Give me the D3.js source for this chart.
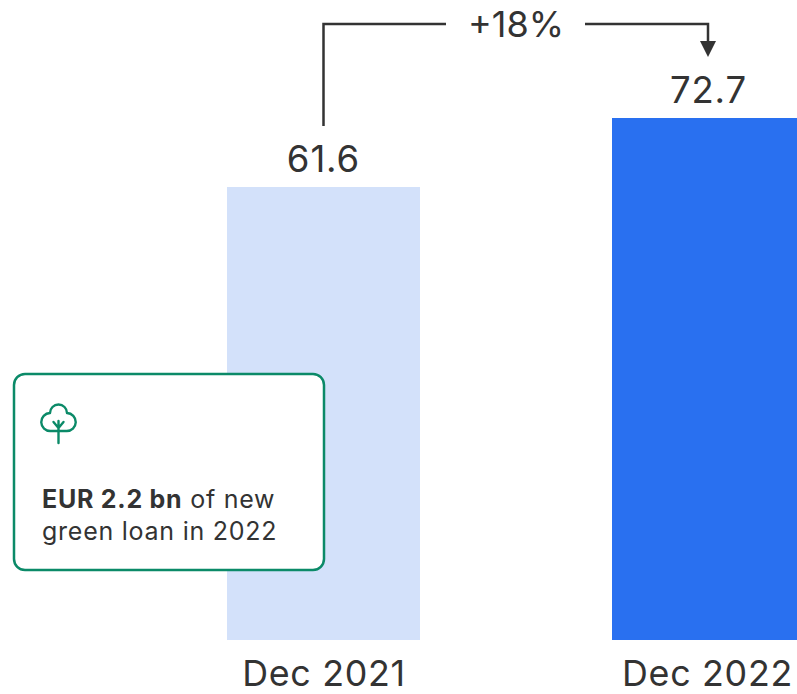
<!DOCTYPE html>
<html>
<head>
<meta charset="utf-8">
<script src="https://cdn.jsdelivr.net/npm/d3@7"></script>
<style>
  html, body { margin: 0; padding: 0; background: #fff; overflow: hidden; }
  svg { display: block; }
  text { font-family: Inter, "Noto Sans", sans-serif; fill: #333; }
</style>
</head>
<body>
<svg id="chart" width="797" height="694"></svg>
<script>
// Loan book at year end, EUR bn
const periods = ["Dec 2021", "Dec 2022"];
const loanValues = [61.6, 72.7];
const barColors = ["#d3e1fa", "#2970f0"];
const growthLabel = "+18%";
const noteBold = "EUR 2.2 bn";
const noteRest = " of new";
const noteSecond = "green loan in 2022";

const svg = d3.select("#chart");
const inkColor = "#333333";
const greenColor = "#0b8a68";

// The value axis does not start at zero: the bars sit on a shortened baseline
const barWidth = 193;
const x = d3.scaleOrdinal().domain(periods).range([227, 612]);
const y = d3.scaleLinear().domain([-11.28, 72.7]).range([640, 118]);

svg.selectAll("rect.bar")
  .data(periods)
  .join("rect")
  .attr("class", "bar")
  .attr("x", d => x(d))
  .attr("width", barWidth)
  .attr("y", (d, i) => y(loanValues[i]))
  .attr("height", (d, i) => y.range()[0] - y(loanValues[i]))
  .attr("fill", (d, i) => barColors[i]);

// Value labels above the bars
svg.selectAll("text.value")
  .data(periods)
  .join("text")
  .attr("class", "value")
  .attr("x", d => x(d) + barWidth / 2)
  .attr("y", (d, i) => y(loanValues[i]) - 15)
  .attr("text-anchor", "middle")
  .attr("font-size", 36.5)
  .attr("letter-spacing", 0.9)
  .text((d, i) => loanValues[i].toFixed(1));

// Period labels below the bars
svg.selectAll("text.period")
  .data(periods)
  .join("text")
  .attr("class", "period")
  .attr("x", (d, i) => x(d) + barWidth / 2 + (i === 0 ? 0.5 : -1))
  .attr("y", 686)
  .attr("text-anchor", "middle")
  .attr("font-size", 35.8)
  .attr("letter-spacing", 0.7)
  .text(d => d);

// Growth connector from the first bar to the second
const connectorY = 24;
const x0 = x(periods[0]) + barWidth / 2;
const x1 = 708;
const connector = svg.append("g")
  .attr("fill", "none")
  .attr("stroke", inkColor)
  .attr("stroke-width", 2.5);
connector.append("path").attr("d", `M${x0},126V${connectorY}H446`);
connector.append("path").attr("d", `M585,${connectorY}H${x1}V42`);
svg.append("path")
  .attr("d", `M${x1 - 8},41H${x1 + 8}L${x1},57Z`)
  .attr("fill", inkColor);
svg.append("text")
  .attr("x", 516)
  .attr("y", 37)
  .attr("text-anchor", "middle")
  .attr("font-size", 36)
  .text(growthLabel);

// Green loan call-out
svg.append("rect")
  .attr("x", 14).attr("y", 374)
  .attr("width", 310).attr("height", 196)
  .attr("rx", 11)
  .attr("fill", "#fff")
  .attr("stroke", greenColor)
  .attr("stroke-width", 2.5);

const tree = svg.append("g")
  .attr("transform", "translate(58.5,423)")
  .attr("fill", "none")
  .attr("stroke", greenColor)
  .attr("stroke-width", 2.4)
  .attr("stroke-linecap", "round")
  .attr("stroke-linejoin", "round");
tree.append("path").attr("d",
  "M-8,8 A9,9 0 0 1 -8.5,-10 A8.5,8.5 0 0 1 8.5,-10 A9,9 0 0 1 8,8 Z");
tree.append("path").attr("d", "M0,20V-2M0,5L-5,-1M0,5L5,-1");

const note = svg.append("text").attr("x", 42).attr("font-size", 25).attr("letter-spacing", 0.75);
note.append("tspan").attr("x", 42).attr("y", 508).attr("font-weight", 700).text(noteBold);
note.append("tspan").text(noteRest);
note.append("tspan").attr("x", 42).attr("y", 540).text(noteSecond);
</script>
</body>
</html>
